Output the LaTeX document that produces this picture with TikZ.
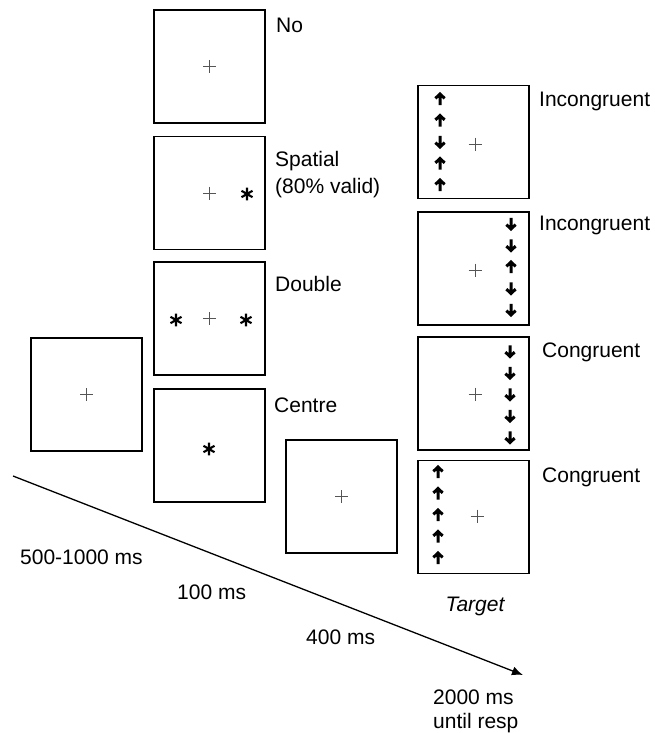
\documentclass[tikz,border=0pt]{standalone}
\usepackage{fontspec}
\setmainfont{Liberation Sans}
\usetikzlibrary{arrows.meta}
\definecolor{crossgray}{RGB}{85,85,85}

\tikzset{
  screen/.style={draw, line width=1.6pt, minimum width=111pt, minimum height=113pt, inner sep=0pt},
  lbl/.style={font=\fontsize{21}{25}\selectfont, inner sep=0pt},
  flank/.style={line width=3pt, miter limit=3},
}
\newcommand{\fixcross}[1]{\draw[crossgray, line width=0.8pt, shift={(#1)}] (-6.5,0) -- (6.5,0) (0,-6.5) -- (0,6.5);}
\newcommand{\cuestar}[1]{\draw[line width=2.1pt, shift={(#1)}] (0,-6.3) -- (0,6.3) (-5.5,-3.2) -- (5.5,3.2) (-5.5,3.2) -- (5.5,-3.2);}
% #3 = 1 points up, -1 points down
\newcommand{\flankarrow}[3]{\draw[flank, shift={(#1,{#2})}, yscale=#3] (0,6.2) -- (0,-4.5) (-4.6,-0.6) -- (0,-5) -- (4.6,-0.6);}

\begin{document}
\begin{tikzpicture}[x=1pt, y=-1pt]
\useasboundingbox (0,0) rectangle (655,733);

% fixation and cue screens
\node[screen] (fix) at (86.5,394.5) {};
\node[screen] (nocue) at (209.5,66.5) {};
\node[screen] (spatial) at (209.5,193) {};
\node[screen] (double) at (209.5,318.5) {};
\node[screen] (centre) at (209.5,445.5) {};
\node[screen] (isi) at (341.5,496.5) {};

\fixcross{fix.center}
\fixcross{nocue.center}
\fixcross{spatial.center}
\fixcross{double.center}
\fixcross{isi.center}
\cuestar{247,194}
\cuestar{176,320}
\cuestar{246,320}
\cuestar{209,449}

\node[lbl, anchor=base west] (lno) at (276,33) {No};
\node[lbl, anchor=base west] (lspatial) at (275,166) {Spatial};
\node[lbl, anchor=base west] (lvalid) at (275,193) {(80\% valid)};
\node[lbl, anchor=base west] (ldouble) at (275,291) {Double};
\node[lbl, anchor=base west] (lcentre) at (274,412) {Centre};

% target screens
\node[screen] (tgtA) at (473.5,142) {};
\node[screen] (tgtB) at (473.5,268.5) {};
\node[screen] (tgtC) at (473.5,393.5) {};
\node[screen] (tgtD) at (473.5,517) {};

\fixcross{475,144}
\fixcross{475,270}
\fixcross{475,394}
\fixcross{477,516}

\foreach \d [count=\i] in {1,1,-1,1,1}{
  \flankarrow{440}{142+(\i-3)*21.5}{\d}
}
\foreach \d [count=\i] in {-1,-1,1,-1,-1}{
  \flankarrow{511}{267+(\i-3)*21.5}{\d}
}
\foreach \d [count=\i] in {-1,-1,-1,-1,-1}{
  \flankarrow{510}{394.5+(\i-3)*21.5}{\d}
}
\foreach \d [count=\i] in {1,1,1,1,1}{
  \flankarrow{438}{515+(\i-3)*21.5}{\d}
}

\node[lbl, anchor=base west] (lincA) at (539,107) {Incongruent};
\node[lbl, anchor=base west] (lincB) at (539,230) {Incongruent};
\node[lbl, anchor=base west] (lconA) at (542,357) {Congruent};
\node[lbl, anchor=base west] (lconB) at (542,482) {Congruent};
\node[lbl, anchor=base] (ltarget) at (475,611) {\itshape Target};

% time line
\coordinate (tstart) at (13,476);
\coordinate (tend) at (523,675);
\draw[line width=1.3pt, -{Latex[length=11pt,width=9pt]}] (tstart) -- (tend);

\node[lbl, anchor=base west] (tfix) at (20,564) {500-1000 ms};
\node[lbl, anchor=base west] (tcue) at (177,599) {100 ms};
\node[lbl, anchor=base west] (tisi) at (306,644) {400 ms};
\node[lbl, anchor=base west] (ttgt) at (433,704) {2000 ms};
\node[lbl, anchor=base west] (tresp) at (433,728) {until resp};
\end{tikzpicture}
\end{document}
